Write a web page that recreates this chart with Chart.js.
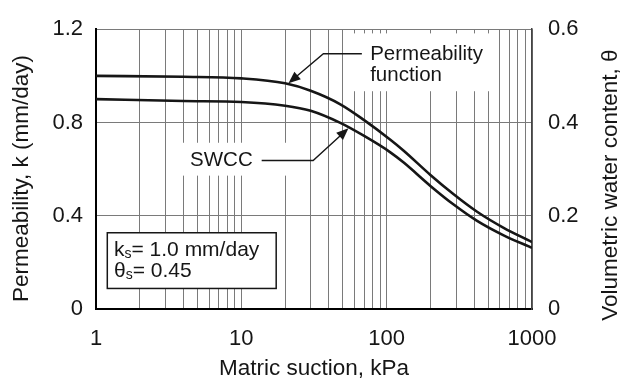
<!DOCTYPE html>
<html>
<head>
<meta charset="utf-8">
<script src="https://cdn.jsdelivr.net/npm/chart.js@4/dist/chart.umd.min.js"></script>
<style>
html,body{margin:0;padding:0;background:#fff;}
#wrap{width:624px;height:381px;}
</style>
</head>
<body>
<div id="wrap"><canvas id="c" width="624" height="381"></canvas></div>
<script>
// ---- data ----
const suction      = [1, 4, 10, 20, 30, 48, 70, 106, 131, 200, 289, 419, 638, 1000];          // kPa
const permeability = [1.0, 0.996, 0.989, 0.968, 0.936, 0.878, 0.810, 0.726, 0.679, 0.575, 0.492, 0.417, 0.348, 0.287]; // mm/day
const waterContent = [0.450, 0.446, 0.444, 0.436, 0.425, 0.399, 0.371, 0.336, 0.314, 0.264, 0.224, 0.189, 0.158, 0.131];  // theta

const xGridTicks  = [1,2,3,4,5,6,7,8,9,10,20,30,40,50,60,70,80,90,100,200,300,400,500,600,700,800,900,1000];
const xLabelTicks = [1, 10, 100, 1000];
const xTickLabels = ['1', '10', '100', '1000'];
const kTicks      = [0, 0.4, 0.8, 1.2];
const kTickLabels = ['0', '0.4', '0.8', '1.2'];
const thTicks     = [0, 0.2, 0.4, 0.6];
const thTickLabels= ['0', '0.2', '0.4', '0.6'];

const xTitle  = 'Matric suction, kPa';
const yTitle  = 'Permeability, k (mm/day)';
const y2Title = 'Volumetric water content, θ';

// annotation placement in data coordinates (x: kPa, y: left axis units)
const permLabel = {text: ['Permeability', 'function'], x: 77, y: [1.092, 1.003]};
const permLeader = [[67.5, 1.095], [36.7, 1.095], [21.1, 0.968]];
const permMask = {x0: 53.5, x1: 551, y0: 1.182, y1: 0.934};
const swccLabel = {text: 'SWCC', x: 4.44, y: 0.637};
const swccLeader = [[13.8, 0.637], [31.2, 0.637], [54.6, 0.775]];
const swccMask = {x0: 3.67, x1: 25.4, y0: 0.713, y1: 0.572};
const infoBox = {x0: 1.196, x1: 17.37, y0: 0.327, y1: 0.0881, tx: 1.33, ty: [0.2524, 0.1614]};

const FONT = '"Liberation Sans", Arial, Helvetica, sans-serif';
const INK = '#161616';

function pts(xs, ys){ return xs.map((v,i)=>({x:v, y:ys[i]})); }

function arrowPath(ctx, pxs){
  ctx.beginPath();
  const n = pxs.length;
  const tip = pxs[n-1], prev = pxs[n-2];
  const dx = tip[0]-prev[0], dy = tip[1]-prev[1];
  const L = Math.hypot(dx,dy), ux = dx/L, uy = dy/L;
  const ah = 12, aw = 5;
  const bx = tip[0]-ux*ah, by = tip[1]-uy*ah;
  ctx.moveTo(pxs[0][0], pxs[0][1]);
  for (let i=1;i<n-1;i++) ctx.lineTo(pxs[i][0], pxs[i][1]);
  ctx.lineTo(bx+ux*2, by+uy*2);
  ctx.stroke();
  ctx.beginPath();
  ctx.moveTo(tip[0], tip[1]);
  ctx.lineTo(bx - uy*aw, by + ux*aw);
  ctx.lineTo(bx + uy*aw, by - ux*aw);
  ctx.closePath();
  ctx.fill();
}

const annotPlugin = {
  id: 'annot',
  beforeDatasetsDraw(chart){
    const {ctx, scales:{x, y}} = chart;
    ctx.save();
    ctx.fillStyle = '#fff';
    for (const m of [permMask, swccMask]){
      const X0 = x.getPixelForValue(m.x0), X1 = x.getPixelForValue(m.x1);
      const Y0 = y.getPixelForValue(m.y0), Y1 = y.getPixelForValue(m.y1);
      ctx.fillRect(X0, Y0, X1-X0, Y1-Y0);
    }
    // info box
    const bX0 = x.getPixelForValue(infoBox.x0), bX1 = x.getPixelForValue(infoBox.x1);
    const bY0 = y.getPixelForValue(infoBox.y0), bY1 = y.getPixelForValue(infoBox.y1);
    ctx.fillRect(bX0, bY0, bX1-bX0, bY1-bY0);
    ctx.strokeStyle = INK; ctx.lineWidth = 1.5;
    ctx.strokeRect(bX0, bY0, bX1-bX0, bY1-bY0);
    ctx.fillStyle = INK;
    ctx.textBaseline = 'middle'; ctx.textAlign = 'left';
    const tx = x.getPixelForValue(infoBox.tx);
    const rows = [['k','s','= 1.0 mm/day'], ['θ','s','= 0.45']];
    rows.forEach((r,i)=>{
      const ty = y.getPixelForValue(infoBox.ty[i]);
      ctx.font = '21px ' + FONT;
      ctx.fillText(r[0], tx, ty);
      let cx = tx + ctx.measureText(r[0]).width;
      ctx.font = '14px ' + FONT;
      ctx.fillText(r[1], cx, ty + 4);
      cx += ctx.measureText(r[1]).width;
      ctx.font = '21px ' + FONT;
      ctx.fillText(r[2], cx, ty);
    });
    ctx.restore();
  },
  afterDatasetsDraw(chart){
    const {ctx, scales:{x, y}} = chart;
    ctx.save();
    ctx.fillStyle = INK; ctx.strokeStyle = INK; ctx.lineWidth = 1.4;
    ctx.font = '20.5px ' + FONT;
    ctx.textBaseline = 'middle'; ctx.textAlign = 'left';
    permLabel.text.forEach((t,i)=>ctx.fillText(t, x.getPixelForValue(permLabel.x), y.getPixelForValue(permLabel.y[i])));
    ctx.fillText(swccLabel.text, x.getPixelForValue(swccLabel.x), y.getPixelForValue(swccLabel.y));
    const toPx = p => [x.getPixelForValue(p[0]), y.getPixelForValue(p[1])];
    arrowPath(ctx, permLeader.map(toPx));
    arrowPath(ctx, swccLeader.map(toPx));
    ctx.restore();
  },
  afterDraw(chart){
    // right-axis title, read bottom-to-top like the reference
    const s = chart.scales.y2;
    const {ctx} = chart;
    ctx.save();
    ctx.fillStyle = INK;
    ctx.font = '22.5px ' + FONT;
    ctx.textAlign = 'center'; ctx.textBaseline = 'middle';
    ctx.translate(s.right - 13, (chart.chartArea.top + chart.chartArea.bottom) / 2 + 16);
    ctx.rotate(-Math.PI / 2);
    ctx.fillText(y2Title, 0, 0);
    ctx.restore();
  }
};

const tickFont = {family: FONT, size: 22};
const titleFont = {family: FONT, size: 22.5, lineHeight: 1};
const GRID = '#7a7a7a';

new Chart(document.getElementById('c'), {
  type: 'line',
  data: {
    datasets: [
      {label: 'Permeability function', data: pts(suction, permeability), yAxisID: 'y',
       borderColor: INK, borderWidth: 2.6, pointRadius: 0, fill: false, cubicInterpolationMode: 'monotone'},
      {label: 'SWCC', data: pts(suction, waterContent), yAxisID: 'y2',
       borderColor: INK, borderWidth: 2.6, pointRadius: 0, fill: false, cubicInterpolationMode: 'monotone'}
    ]
  },
  options: {
    responsive: false, animation: false, devicePixelRatio: 1,
    layout: {padding: {top: 19, left: 0, right: 0, bottom: 0}},
    plugins: {legend: {display: false}, tooltip: {enabled: false}, title: {display: false}},
    scales: {
      x: {
        type: 'logarithmic', position: 'bottom', min: 1, max: 1000,
        afterBuildTicks: s => { s.ticks = xGridTicks.map(v => ({value: v, major: xLabelTicks.includes(v)})); },
        afterFit: s => { s.height = 72; },
        ticks: {autoSkip: false, maxRotation: 0, minRotation: 0, padding: 17, color: INK, font: tickFont,
          callback: v => { const i = xLabelTicks.indexOf(v); return i >= 0 ? xTickLabels[i] : ''; }},
        grid: {color: GRID, lineWidth: 1, drawTicks: false},
        border: {display: true, color: '#000', width: 2},
        title: {display: true, text: xTitle, color: INK, font: titleFont, padding: {top: 0, bottom: 1}}
      },
      y: {
        type: 'linear', position: 'left', min: 0, max: 1.2,
        afterBuildTicks: s => { s.ticks = kTicks.map(v => ({value: v})); },
        afterFit: s => { s.width = 96; },
        ticks: {padding: 13, color: INK, font: tickFont,
          callback: (v, i) => kTickLabels[i]},
        grid: {color: GRID, lineWidth: 1, drawTicks: false},
        border: {display: true, color: '#000', width: 2},
        title: {display: true, text: yTitle + '   ', color: INK, font: titleFont, padding: {top: 11, bottom: 0}}
      },
      y2: {
        type: 'linear', position: 'right', min: 0, max: 0.6,
        afterBuildTicks: s => { s.ticks = thTicks.map(v => ({value: v})); },
        afterFit: s => { s.width = 92; },
        ticks: {padding: 16, color: INK, font: tickFont,
          callback: (v, i) => thTickLabels[i]},
        grid: {display: false, drawTicks: false},
        border: {display: true, color: '#444', width: 1.5},
        title: {display: false, text: y2Title}
      }
    }
  },
  plugins: [annotPlugin]
});
</script>
</body>
</html>
